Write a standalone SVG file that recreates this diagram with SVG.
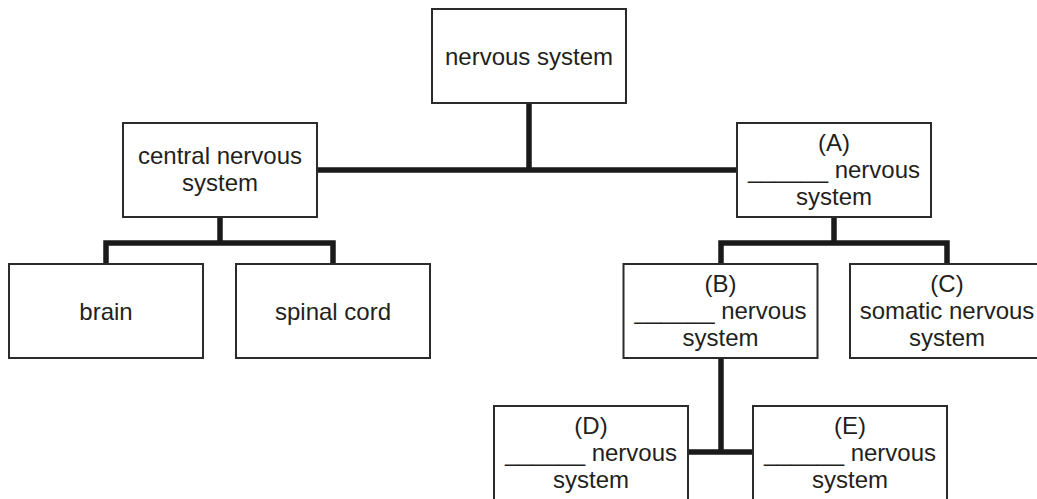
<svg xmlns="http://www.w3.org/2000/svg" width="1037" height="499" viewBox="0 0 1037 499">
<style>
.box{fill:#fff;stroke:#2b2b2b;stroke-width:2}
.t{font-family:"Liberation Sans",Arial,sans-serif;font-size:24px;fill:#231f20;text-anchor:middle}
.c{fill:none;stroke:#1a1a1a;stroke-width:5.5;stroke-linejoin:miter}
</style>
<rect width="1037" height="499" fill="#fff"/>
<g id="connectors">
<path class="c" d="M529,103 V170 M317,170 H737"/>
<path class="c" d="M220,217 V243 M106,264 V243 H333 V264"/>
<path class="c" d="M834,217 V243 M721,264 V243 H947 V264"/>
<path class="c" d="M721,358 V452 M688,452 H753"/>
</g>
<g id="nervous-system">
<rect class="box" x="432" y="9" width="194" height="94"/>
<text class="t" x="529" y="65">nervous system</text>
</g>
<g id="central">
<rect class="box" x="123" y="123" width="194" height="94"/>
<text class="t" x="220" y="163.5">central nervous</text>
<text class="t" x="220" y="190.5">system</text>
</g>
<g id="brain">
<rect class="box" x="9" y="264" width="194" height="94"/>
<text class="t" x="106" y="320">brain</text>
</g>
<g id="spinal-cord">
<rect class="box" x="236" y="264" width="194" height="94"/>
<text class="t" x="333" y="320">spinal cord</text>
</g>
<g id="A">
<rect class="box" x="737" y="123" width="194" height="94"/>
<text class="t" x="834" y="151">(A)</text>
<text class="t" x="834" y="178">______ nervous</text>
<text class="t" x="834" y="205">system</text>
</g>
<g id="B">
<rect class="box" x="623.5" y="264" width="194" height="94"/>
<text class="t" x="720.5" y="292">(B)</text>
<text class="t" x="720.5" y="319">______ nervous</text>
<text class="t" x="720.5" y="346">system</text>
</g>
<g id="C">
<rect class="box" x="850" y="264" width="194" height="94"/>
<text class="t" x="947" y="292">(C)</text>
<text class="t" x="947" y="319">somatic nervous</text>
<text class="t" x="947" y="346">system</text>
</g>
<g id="D">
<rect class="box" x="494" y="406" width="194" height="94"/>
<text class="t" x="591" y="434">(D)</text>
<text class="t" x="591" y="461">______ nervous</text>
<text class="t" x="591" y="488">system</text>
</g>
<g id="E">
<rect class="box" x="753" y="406" width="194" height="94"/>
<text class="t" x="850" y="434">(E)</text>
<text class="t" x="850" y="461">______ nervous</text>
<text class="t" x="850" y="488">system</text>
</g>
</svg>
